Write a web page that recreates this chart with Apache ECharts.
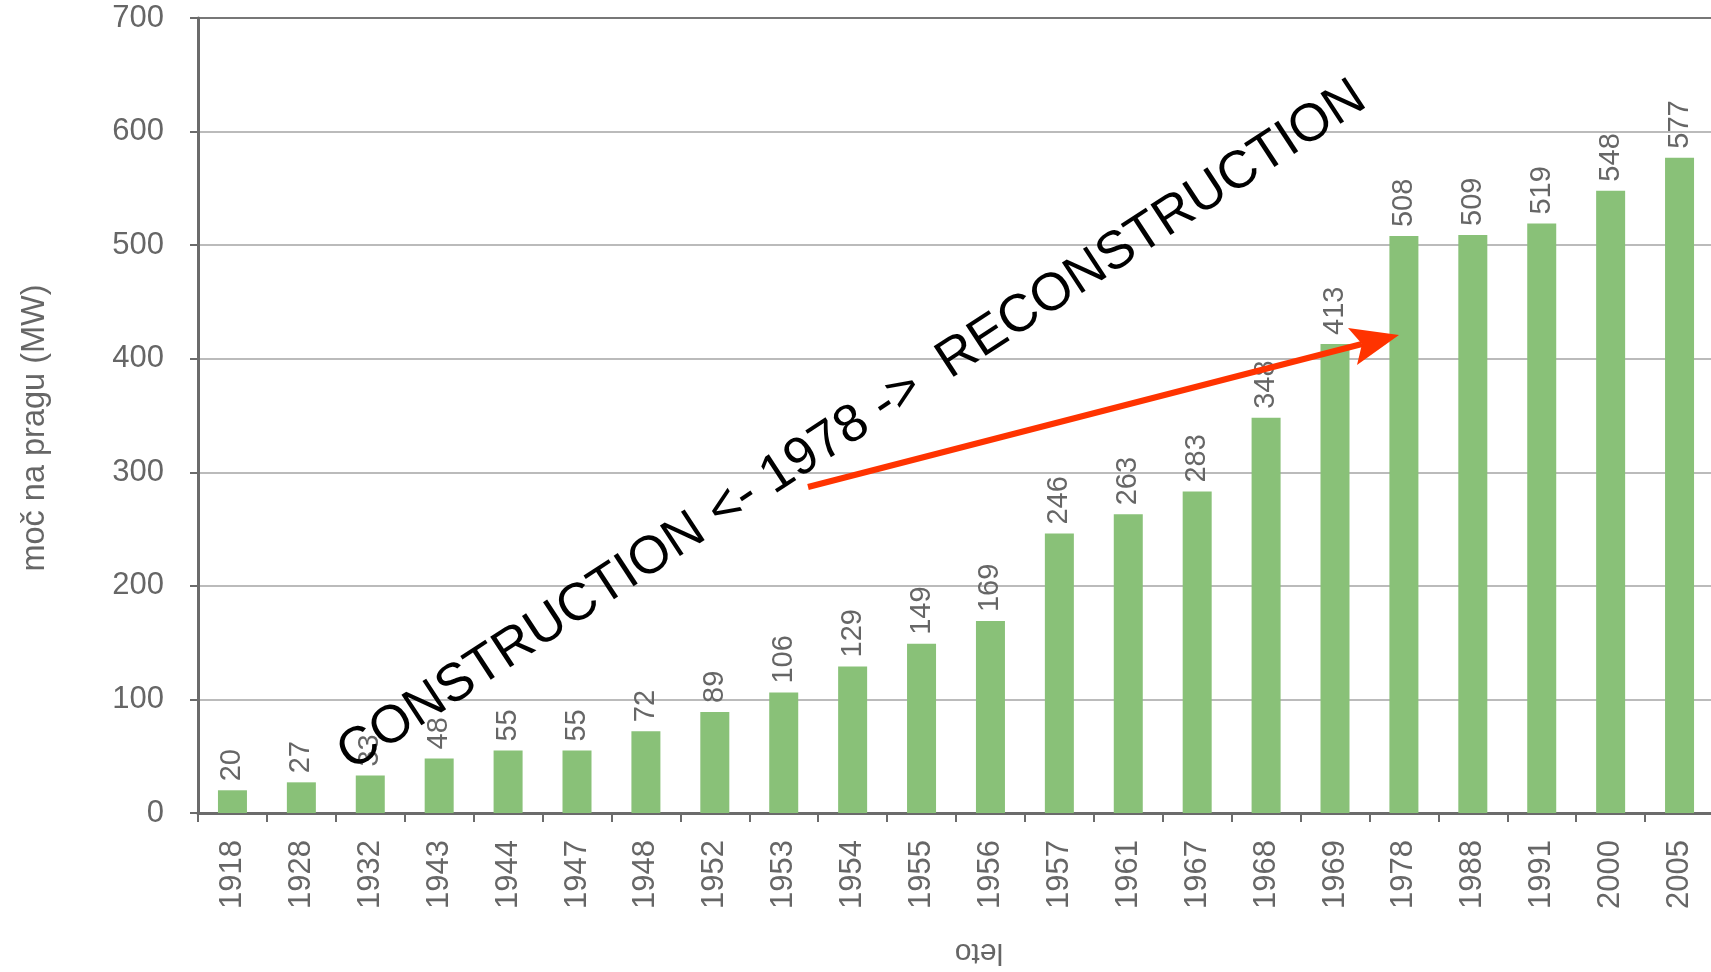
<!DOCTYPE html>
<html>
<head>
<meta charset="utf-8">
<title>moč na pragu</title>
<script src="https://cdn.jsdelivr.net/npm/echarts@6/dist/echarts.min.js"></script>
<style>
	html, body { margin: 0; padding: 0; background: #fff; }
	#echart1 { width: 1711px; height: 972px; }
</style>
</head>
<body>
<div id="echart1"></div>
<script>
'use strict'
/*----data----*/
var years = ['1918', '1928', '1932', '1943', '1944', '1947', '1948', '1952', '1953', '1954', '1955',
	'1956', '1957', '1961', '1967', '1968', '1969', '1978', '1988', '1991', '2000', '2005'];
var power = [20, 27, 33, 48, 55, 55, 72, 89, 106, 129, 149, 169, 246, 263, 283, 348, 413, 508, 509, 519, 548, 577];
var yTicks = [0, 100, 200, 300, 400, 500, 600, 700];

var font = 'Liberation Sans, Arial, sans-serif';
var textGray = '#666';

/*----Echart1----*/
var chart = document.getElementById('echart1');
var barChart = echarts.init(chart);
var option = {
	backgroundColor: '#fff',
	animation: false,
	grid: {
		top: 18,
		right: -3,
		bottom: 159,
		left: 198,
		outerBoundsMode: 'none'
	},
	xAxis: {
		type: 'category',
		data: years,
		name: 'leto',
		nameLocation: 'middle',
		nameRotate: 180,
		nameGap: 124,
		nameTextStyle: {
			fontFamily: font,
			fontSize: 30,
			color: textGray,
			padding: [0, 46, 0, 0]
		},
		axisLine: {
			lineStyle: {
				color: '#6b6b6b',
				width: 3
			}
		},
		axisTick: {
			show: true,
			length: 9,
			lineStyle: {
				color: '#6b6b6b',
				width: 2
			}
		},
		axisLabel: {
			rotate: 90,
			margin: 27,
			fontFamily: font,
			fontSize: 31,
			color: textGray
		}
	},
	yAxis: {
		type: 'value',
		min: yTicks[0],
		max: yTicks[yTicks.length - 1],
		interval: 100,
		name: 'moč na pragu (MW)',
		nameLocation: 'middle',
		nameGap: 146,
		nameTextStyle: {
			fontFamily: font,
			fontSize: 32.5,
			color: textGray,
			padding: [0, 25, 0, 0]
		},
		axisLine: {
			show: true,
			lineStyle: {
				color: '#6b6b6b',
				width: 3
			}
		},
		axisTick: {
			show: true,
			length: 8,
			lineStyle: {
				color: '#6b6b6b',
				width: 2
			}
		},
		splitLine: {
			lineStyle: {
				color: ['#bbb', '#bbb', '#bbb', '#bbb', '#bbb', '#bbb', '#bbb', '#777'],
				width: 2
			}
		},
		axisLabel: {
			margin: 34,
			fontFamily: font,
			fontSize: 31,
			color: textGray
		}
	},
	series: [{
		name: 'moč na pragu',
		type: 'bar',
		barWidth: 29,
		data: power,
		itemStyle: {
			color: '#89c178'
		},
		label: {
			show: true,
			position: 'top',
			rotate: 90,
			align: 'left',
			verticalAlign: 'middle',
			distance: 9,
			fontFamily: font,
			fontSize: 29,
			color: textGray
		}
	}],
	graphic: [{
		type: 'text',
		x: 852,
		y: 426,
		rotation: 33.2 * Math.PI / 180,
		z: 100,
		style: {
			text: 'CONSTRUCTION <- 1978 ->  RECONSTRUCTION',
			x: 0,
			y: 0,
			font: '53px ' + font,
			fill: '#000',
			textAlign: 'center',
			textVerticalAlign: 'middle',
			align: 'center',
			verticalAlign: 'middle'
		}
	}, {
		type: 'line',
		z: 101,
		shape: {
			x1: 808,
			y1: 487,
			x2: 1362,
			y2: 344
		},
		style: {
			stroke: '#ff3300',
			lineWidth: 6
		}
	}, {
		type: 'polygon',
		z: 101,
		shape: {
			points: [[1399, 335], [1348, 328], [1362, 344], [1357, 365]]
		},
		style: {
			fill: '#ff3300'
		}
	}]
};
barChart.setOption(option);
</script>
</body>
</html>
